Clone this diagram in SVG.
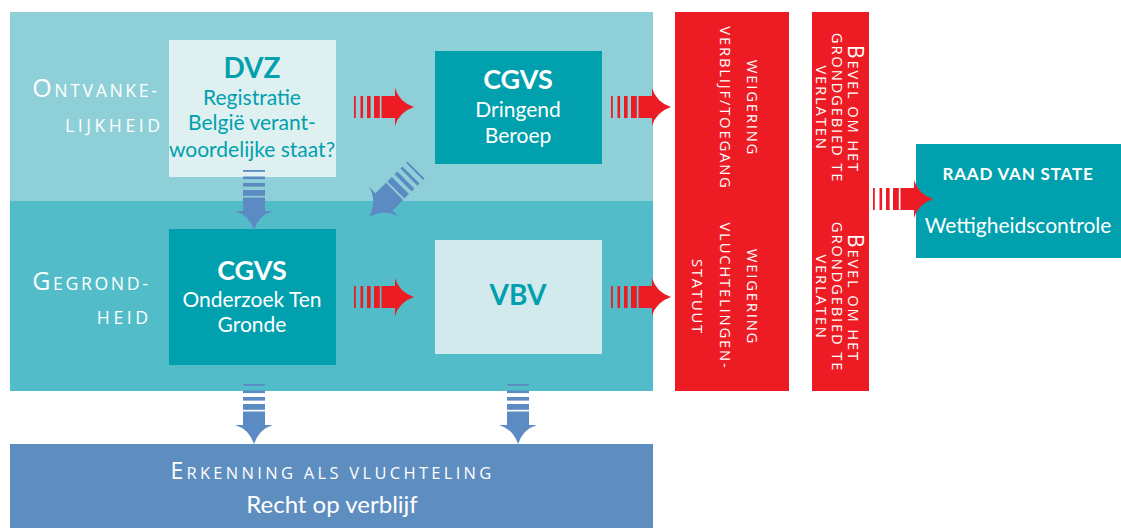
<svg xmlns="http://www.w3.org/2000/svg" xmlns:xlink="http://www.w3.org/1999/xlink" width="1121" height="528" viewBox="0 0 1121 528">
<style>
text{font-family:Lato,"Open Sans","Liberation Sans",sans-serif}
.sc{font-family:"Open Sans","Liberation Sans",sans-serif;fill:#fff}
.lbl{font-size:17.7px;letter-spacing:2.6px}
.lbl2{font-size:17.7px;letter-spacing:3.5px}
.red{font-size:14.8px;letter-spacing:1.8px}
.tb{font-weight:bold;text-anchor:middle}
.tn{text-anchor:middle;font-size:21px}
.w{fill:#fff}
.t{fill:#00A0AE}
</style>
<defs>
<g id="arr">
<rect x="0" y="-11" width="1.8" height="22"/>
<rect x="6.5" y="-11" width="2.6" height="22"/>
<rect x="13" y="-11" width="3.6" height="22"/>
<rect x="20" y="-11" width="5.8" height="22"/>
<path d="M27.5 -11 H41 V-19 Q45 -5 60 0 Q45 5 41 19 V11 H27.5 Z"/>
</g>
</defs>
<rect x="0" y="0" width="1121" height="528" fill="#fff"/>
<g id="bands">
<rect x="10" y="12" width="643" height="189" fill="#8FCFD8"/>
<rect x="10" y="201" width="643" height="190" fill="#52BCC8"/>
</g>
<g id="label-ontvankelijkheid">
<text class="sc lbl" x="159.5" y="97" text-anchor="end"><tspan font-size="25">O</tspan>NTVANKE-</text>
<text class="sc lbl2" x="163.5" y="132" text-anchor="end">LIJKHEID</text>
</g>
<g id="label-gegrondheid">
<text class="sc lbl" x="150.5" y="290" text-anchor="end"><tspan font-size="25">G</tspan>EGROND-</text>
<text class="sc lbl2" x="151.5" y="324" text-anchor="end">HEID</text>
</g>
<g id="dvz">
<rect x="169" y="40" width="167" height="137" fill="#DFF0F1"/>
<text class="tb t" x="252" y="78" font-size="28">DVZ</text>
<text class="tn t" x="252" y="105">Registratie</text>
<text class="tn t" x="252" y="130">België verant-</text>
<text class="tn t" x="252" y="157">woordelijke staat?</text>
</g>
<g id="cgvs-dringend">
<rect x="435" y="51" width="167" height="113" fill="#00A0AE"/>
<text class="tb w" x="518" y="89" font-size="27">CGVS</text>
<text class="tn w" x="518" y="117">Dringend</text>
<text class="tn w" x="518" y="143">Beroep</text>
</g>
<g id="cgvs-onderzoek">
<rect x="169" y="229" width="167" height="136" fill="#00A0AE"/>
<text class="tb w" x="252" y="280" font-size="27">CGVS</text>
<text class="tn w" x="252" y="307">Onderzoek Ten</text>
<text class="tn w" x="252" y="332">Gronde</text>
</g>
<g id="vbv">
<rect x="435" y="240" width="167" height="114" fill="#D2EAEE"/>
<text class="tb t" x="518" y="305" font-size="28">VBV</text>
</g>
<g id="weigering">
<rect x="675" y="12" width="114" height="379" fill="#ED1C24"/>
<text class="sc red" text-anchor="middle" transform="translate(747,108) rotate(90)" letter-spacing="2.4">WEIGERING</text>
<text class="sc red" text-anchor="middle" transform="translate(720,108) rotate(90)">VERBLIJF/TOEGANG</text>
<text class="sc red" text-anchor="middle" transform="translate(747,297) rotate(90)" letter-spacing="2.4">WEIGERING</text>
<text class="sc red" text-anchor="middle" transform="translate(720,296) rotate(90)">VLUCHTELINGEN-</text>
<text class="sc red" text-anchor="middle" transform="translate(692,297) rotate(90)">STATUUT</text>
</g>
<g id="bevel">
<rect x="812" y="12" width="57" height="379" fill="#ED1C24"/>
<text class="sc red" text-anchor="middle" transform="translate(848,109) rotate(90)"><tspan font-size="21">B</tspan>EVEL OM HET</text>
<text class="sc red" text-anchor="middle" transform="translate(832,108) rotate(90)">GRONDGEBIED TE</text>
<text class="sc red" text-anchor="middle" transform="translate(816,108) rotate(90)">VERLATEN</text>
<text class="sc red" text-anchor="middle" transform="translate(848,298) rotate(90)"><tspan font-size="21">B</tspan>EVEL OM HET</text>
<text class="sc red" text-anchor="middle" transform="translate(832,297) rotate(90)">GRONDGEBIED TE</text>
<text class="sc red" text-anchor="middle" transform="translate(816,297) rotate(90)">VERLATEN</text>
</g>
<g id="raad">
<rect x="916" y="144" width="205" height="114" fill="#00A0AE"/>
<text class="tb w" x="1018" y="180" font-size="17" letter-spacing="0.8">RAAD VAN STATE</text>
<text class="tn w" x="1018" y="233">Wettigheidscontrole</text>
</g>
<g id="erkenning">
<rect x="10" y="444" width="643" height="84" fill="#5E8DC0"/>
<text class="sc" x="332.5" y="479" text-anchor="middle" font-size="16.5" letter-spacing="3.3"><tspan font-size="23">E</tspan>RKENNING ALS VLUCHTELING</text>
<text class="w" x="332" y="513" text-anchor="middle" font-size="24">Recht op verblijf</text>
</g>
<g id="connectors">
<use xlink:href="#arr" href="#arr" fill="#ED1C24" transform="translate(354,107)"/>
<use xlink:href="#arr" href="#arr" fill="#ED1C24" transform="translate(611,107)"/>
<use xlink:href="#arr" href="#arr" fill="#ED1C24" transform="translate(354,297)"/>
<use xlink:href="#arr" href="#arr" fill="#ED1C24" transform="translate(611,297)"/>
<use xlink:href="#arr" href="#arr" fill="#ED1C24" transform="translate(873,199)"/>
<use xlink:href="#arr" href="#arr" fill="#5B8BC2" transform="translate(254,170) rotate(90)"/>
<use xlink:href="#arr" href="#arr" fill="#5B8BC2" transform="translate(416,170) rotate(135) scale(1.1)"/>
<use xlink:href="#arr" href="#arr" fill="#5B8BC2" transform="translate(254,384) rotate(90)"/>
<use xlink:href="#arr" href="#arr" fill="#5B8BC2" transform="translate(518,384) rotate(90)"/>
</g>
</svg>
